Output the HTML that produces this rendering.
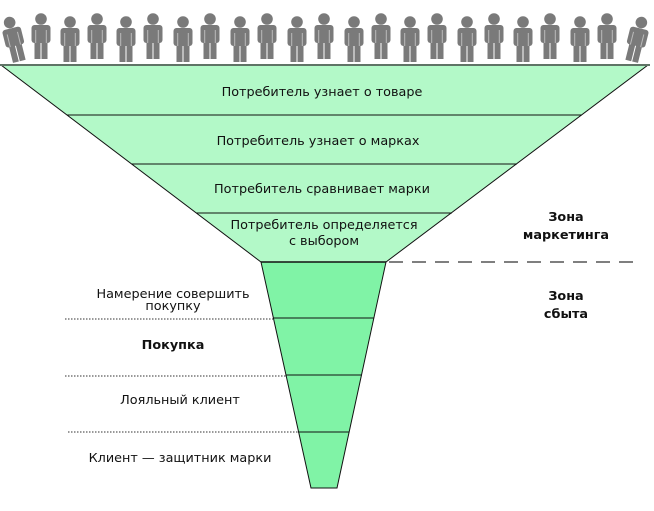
<!DOCTYPE html>
<html><head><meta charset="utf-8"><style>
html,body{margin:0;padding:0;background:#fff;}
svg{display:block;}
text{font-family:"DejaVu Sans","Liberation Sans",sans-serif;font-size:12.8px;fill:#111;}
</style></head><body>
<svg width="654" height="511" viewBox="0 0 654 511" xmlns="http://www.w3.org/2000/svg">
<defs>
<g id="p" fill="#7a7a7a">
<circle cx="0" cy="22" r="5.8"/>
<rect x="-9.5" y="28" width="19" height="18" rx="3"/>
<rect x="-6.5" y="42" width="6" height="20"/>
<rect x="0.5" y="42" width="6" height="20"/>
<rect x="-5.8" y="33" width="1" height="13" fill="#bbb"/>
<rect x="4.8" y="33" width="1" height="13" fill="#bbb"/>
</g>
</defs>
<g transform="translate(14,0) rotate(-14 0 40)"><use href="#p"/></g>
<use href="#p" x="41" y="-3"/>
<use href="#p" x="70"/>
<use href="#p" x="97" y="-3"/>
<use href="#p" x="126"/>
<use href="#p" x="153" y="-3"/>
<use href="#p" x="183"/>
<use href="#p" x="210" y="-3"/>
<use href="#p" x="240"/>
<use href="#p" x="267" y="-3"/>
<use href="#p" x="297"/>
<use href="#p" x="324" y="-3"/>
<use href="#p" x="354"/>
<use href="#p" x="381" y="-3"/>
<use href="#p" x="410"/>
<use href="#p" x="437" y="-3"/>
<use href="#p" x="467"/>
<use href="#p" x="494" y="-3"/>
<use href="#p" x="523"/>
<use href="#p" x="550" y="-3"/>
<use href="#p" x="580"/>
<use href="#p" x="607" y="-3"/>
<g transform="translate(637,0) rotate(14 0 40)"><use href="#p"/></g>

<polygon points="1,65 648,65 386,262 261,262" fill="#b3f9c8" stroke="#111" stroke-width="1"/>
<line x1="0" y1="65" x2="650" y2="65" stroke="#5f7466" stroke-width="2"/>
<line x1="67" y1="115" x2="582" y2="115" stroke="#111"/>
<line x1="132" y1="164" x2="517" y2="164" stroke="#111"/>
<line x1="196" y1="213" x2="452" y2="213" stroke="#111"/>
<polygon points="261,262 386,262 337,488 311,488" fill="#80f3a6" stroke="#111" stroke-width="1"/>
<line x1="261" y1="262" x2="386" y2="262" stroke="#111" stroke-width="1.5"/>
<line x1="273" y1="318" x2="374" y2="318" stroke="#111"/>
<line x1="286" y1="375" x2="362" y2="375" stroke="#111"/>
<line x1="298" y1="432" x2="349" y2="432" stroke="#111"/>
<line x1="389" y1="262" x2="634" y2="262" stroke="#333" stroke-width="1.2" stroke-dasharray="14,9"/>
<g stroke="#333" stroke-dasharray="1.5,1.5" stroke-width="1">
<line x1="65" y1="319" x2="273" y2="319"/>
<line x1="65" y1="376" x2="286" y2="376"/>
<line x1="68" y1="432" x2="298" y2="432"/>
</g>
<g text-anchor="middle">
<text x="322" y="96">Потребитель узнает о товаре</text>
<text x="318" y="145">Потребитель узнает о марках</text>
<text x="322" y="193">Потребитель сравнивает марки</text>
<text x="324" y="229">Потребитель определяется</text>
<text x="324" y="245">с выбором</text>
<text x="173" y="298">Намерение совершить</text>
<text x="173" y="310">покупку</text>
<text x="173" y="349" font-weight="bold">Покупка</text>
<text x="180" y="404">Лояльный клиент</text>
<text x="180" y="462">Клиент — защитник марки</text>
<g font-size="13.5px" font-weight="bold">
<text x="566" y="221" font-size="13.5px">Зона</text>
<text x="566" y="239" font-size="13.5px">маркетинга</text>
<text x="566" y="300" font-size="13.5px">Зона</text>
<text x="566" y="318" font-size="13.5px">сбыта</text>
</g>
</g>
</svg>
</body></html>
